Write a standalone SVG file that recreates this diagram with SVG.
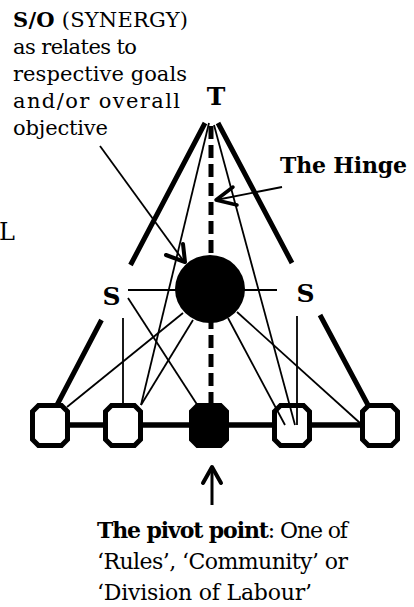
<svg xmlns="http://www.w3.org/2000/svg" width="414" height="607" viewBox="0 0 414 607">
<style>
text{font-family:"DejaVu Serif","Liberation Serif",serif;fill:#000}
.t{font-size:21px}
.bt{font-size:22px}
.b{font-weight:bold}
.thin{stroke:#000;stroke-width:1.8;fill:none}
.thick{stroke:#000;stroke-width:5;fill:none}
.dash{stroke:#000;stroke-width:5;stroke-dasharray:13 6;fill:none}
.head{stroke:#000;stroke-width:4;fill:none;stroke-linecap:round;stroke-linejoin:round}
.oct{stroke:#000;stroke-width:5}
</style>
<defs>
<path id="oct" d="M-11.5,-20 H11.5 L17.5,-14 V14 L11.5,20 H-11.5 L-17.5,14 V-14 Z"/>
</defs>
<rect width="414" height="607" fill="#fff"/>

<g id="label-so">
<text class="t" x="13" y="27" textLength="175"><tspan class="b">S/O</tspan> (SYNERGY)</text>
<text class="t" x="13" y="54" textLength="124">as relates to</text>
<text class="t" x="13" y="81" textLength="174">respective goals</text>
<text class="t" x="13" y="108" textLength="167">and/or overall</text>
<text class="t" x="13" y="135" textLength="95">objective</text>
</g>
<g id="label-L"><text x="-1" y="240" style="font-size:24px">L</text></g>
<g id="label-hinge"><text class="b" x="280" y="173" style="font-size:22px" textLength="127">The Hinge</text></g>
<g id="label-pivot">
<text class="bt" x="97" y="538" textLength="251"><tspan class="b">The pivot point</tspan>: One of</text>
<text class="bt" x="97" y="569" textLength="251">‘Rules’, ‘Community’ or</text>
<text class="bt" x="97" y="600" textLength="215">‘Division of Labour’</text>
</g>

<g id="node-T"><text class="b" x="216" y="105" text-anchor="middle" style="font-size:25px">T</text></g>
<g id="node-S-left"><text class="b" x="111.5" y="305" text-anchor="middle" style="font-size:25px">S</text></g>
<g id="node-S-right"><text class="b" x="305.5" y="302" text-anchor="middle" style="font-size:25px">S</text></g>

<g id="nodes-bottom">
<g id="node-1"><use href="#oct" class="oct" fill="#fff" transform="translate(50,425.5)"/></g>
<g id="node-2"><use href="#oct" class="oct" fill="#fff" transform="translate(123,425.5)"/></g>
<g id="node-3"><use href="#oct" class="oct" fill="#000" transform="translate(209,425.5)"/></g>
<g id="node-4"><use href="#oct" class="oct" fill="#fff" transform="translate(292,425.5)"/></g>
<g id="node-5"><use href="#oct" class="oct" fill="#fff" transform="translate(380,425.5)"/></g>
</g>

<g id="connectors">
<path class="thick" style="stroke-width:5.5" d="M70,425 H103 M143,425 H190 M228,425 H273 M311,425 H360"/>
<path class="thick" d="M205,123 L130.5,265 M101.5,320 L57,405"/>
<path class="thick" d="M218,123 L292,263 M320,315 L368,405"/>
<path class="dash" d="M211,126 V403"/>
<path class="thin" d="M209,123 L141,405"/>
<path class="thin" d="M214,125 L295,425"/>
<path class="thin" d="M128,290 H277"/>
<path class="thin" d="M123,318 V404"/>
<path class="thin" d="M297,316 V425"/>
<path class="thin" d="M128,298 L198,406"/>
<path class="thin" d="M183,313 L67,407"/>
<path class="thin" d="M193,320 L141,405"/>
<path class="thin" d="M228,318 L285,425"/>
<path class="thin" d="M237,312 L360,423"/>
<path class="thin" d="M100,146 L185,263"/>
<path class="head" d="M166,255 L185,262 L183,244"/>
<path class="thin" d="M282,187 L216,200"/>
<path class="head" style="stroke-width:3.5" d="M233,187 L216,200 L237,205"/>
<path class="thin" style="stroke-width:3" d="M212,467 V505"/>
<path class="head" style="stroke-width:4" d="M203,483 L212,467 L221,483"/>
</g>

<g id="node-SO"><ellipse cx="210" cy="289" rx="35" ry="34" fill="#000"/></g>
</svg>
